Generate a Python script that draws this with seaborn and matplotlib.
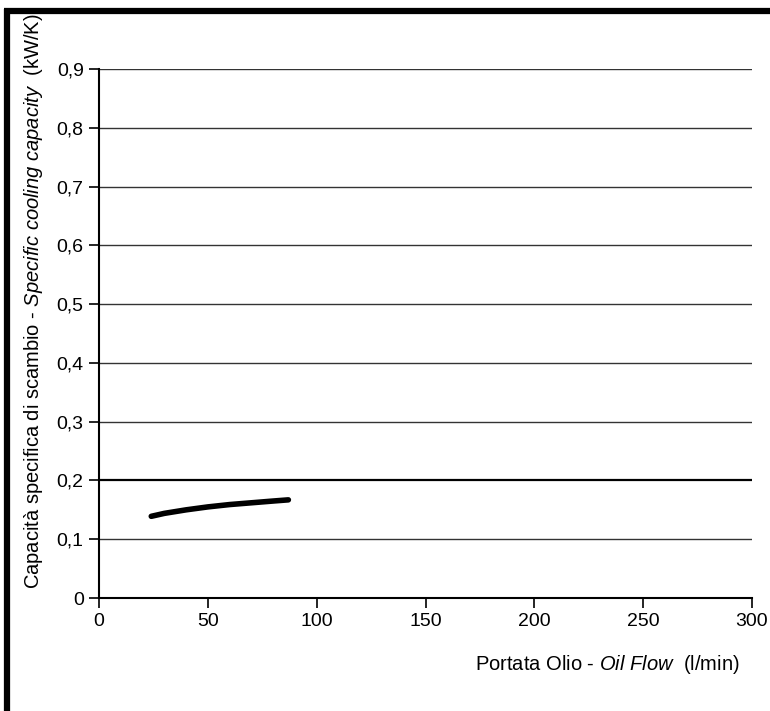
import numpy as np
import pandas as pd
import matplotlib
matplotlib.use("Agg")
import matplotlib.pyplot as plt
from matplotlib.lines import Line2D
import seaborn as sns

# =========================
# DATA
# =========================
oil_flow = [24, 30, 40, 50, 60, 70, 80, 87]
cooling_capacity = [0.139, 0.144, 0.150, 0.155, 0.159, 0.162, 0.165, 0.167]

x_ticks = [0, 50, 100, 150, 200, 250, 300]
y_ticks = [0, 0.1, 0.2, 0.3, 0.4, 0.5, 0.6, 0.7, 0.8, 0.9]
y_tick_labels = ["0", "0,1", "0,2", "0,3", "0,4", "0,5", "0,6", "0,7", "0,8", "0,9"]

df = pd.DataFrame({"flow": oil_flow, "capacity": cooling_capacity})

# =========================
# STYLE
# =========================
sns.set_style("white")
plt.rcParams["font.family"] = ["Liberation Sans", "DejaVu Sans"]
plt.rcParams["mathtext.fontset"] = "custom"
plt.rcParams["mathtext.rm"] = "Liberation Sans"
plt.rcParams["mathtext.it"] = "Liberation Sans:italic"
plt.rcParams["text.color"] = "black"
plt.rcParams["xtick.color"] = "black"
plt.rcParams["ytick.color"] = "black"

fig = plt.figure(figsize=(7.7, 7.11), dpi=100)
ax = fig.add_axes([0.1286, 0.1589, 0.848, 0.7441])

# =========================
# GRID LINES
# =========================
for y in y_ticks[1:]:
    if abs(y - 0.2) < 1e-9:
        ax.axhline(y, color="black", lw=1.6, zorder=1)
    else:
        ax.axhline(y, color="#333333", lw=1.0, zorder=1)

# =========================
# CURVE
# =========================
sns.lineplot(
    data=df,
    x="flow",
    y="capacity",
    color="black",
    lw=4.0,
    ax=ax,
    zorder=3
)
for l in ax.lines:
    l.set_solid_capstyle("round")

ax.set_xlim(0, 300)
ax.set_ylim(0, 0.9)
ax.set_xticks(x_ticks)
ax.set_xticklabels([str(t) for t in x_ticks])
ax.set_yticks(y_ticks)
ax.set_yticklabels(y_tick_labels)

ax.tick_params(axis="both", labelsize=14, direction="out", length=7,
               width=1.2, color="black", labelcolor="black",
               left=True, bottom=True, pad=4)

for s in ["top", "right"]:
    ax.spines[s].set_visible(False)
for s in ["left", "bottom"]:
    ax.spines[s].set_color("black")
    ax.spines[s].set_linewidth(1.5)

ax.set_xlabel("")
ax.set_ylabel("")

# =========================
# AXIS TITLES
# =========================
fig.text(0.961, 0.066, r"Portata Olio - $\it{Oil\ Flow}$  (l/min)",
         ha="right", va="center", fontsize=14.5)
fig.text(0.043, 0.577,
         r"Capacità specifica di scambio - $\it{Specific\ cooling\ capacity}$  (kW/K)",
         ha="center", va="center", rotation=90, fontsize=14.5)

# =========================
# FRAME (top and left thick border)
# =========================
fig.add_artist(Line2D([0.005, 1.0], [0.9845, 0.9845], color="black",
                      lw=4.5, solid_capstyle="butt",
                      transform=fig.transFigure))
fig.add_artist(Line2D([0.0091, 0.0091], [0.0, 0.988], color="black",
                      lw=4.5, solid_capstyle="butt",
                      transform=fig.transFigure))

fig.savefig("out.png", dpi=100)
plt.close(fig)
